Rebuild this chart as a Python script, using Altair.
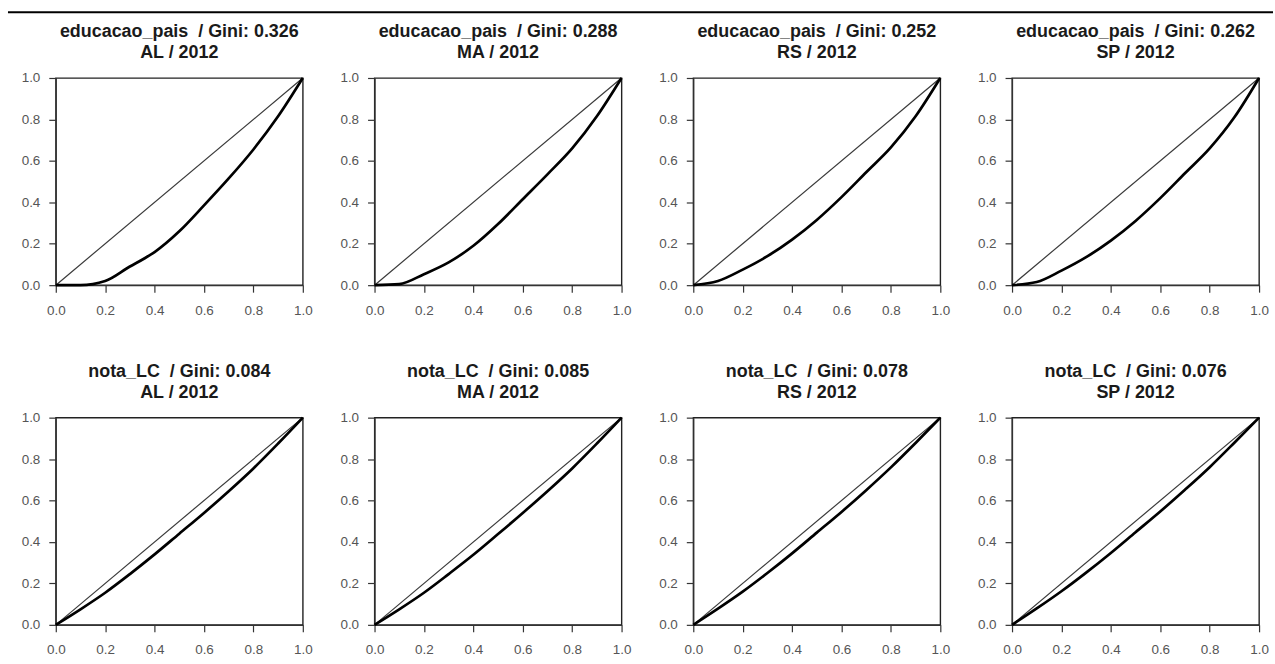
import altair as alt
import pandas as pd

# ---- data ----
VARS_TOP = "educacao_pais"
VARS_BOTTOM = "nota_LC"
UFS = ["AL", "MA", "RS", "SP"]
YEAR = "2012"

GINI_TOP = ["0.326", "0.288", "0.252", "0.262"]
GINI_BOTTOM = ["0.084", "0.085", "0.078", "0.076"]

X_GRID = [0.0, 0.1, 0.2, 0.3, 0.4, 0.5, 0.6, 0.7, 0.8, 0.9, 1.0]
X_AL_EDU = [0.0, 0.1, 0.2, 0.3, 0.36, 0.4, 0.5, 0.6, 0.7, 0.8, 0.9, 1.0]

Y_AL_EDU = [0.0, 0.0, 0.02, 0.09, 0.13, 0.16, 0.26, 0.385, 0.515, 0.655, 0.815, 1.0]
Y_MA_EDU = [0.0, 0.005, 0.053, 0.11, 0.19, 0.295, 0.415, 0.535, 0.66, 0.815, 1.0]
Y_RS_EDU = [0.0, 0.02, 0.075, 0.14, 0.22, 0.315, 0.425, 0.545, 0.665, 0.815, 1.0]
Y_SP_EDU = [0.0, 0.015, 0.07, 0.135, 0.215, 0.31, 0.42, 0.54, 0.66, 0.81, 1.0]

Y_AL_LC = [0.0, 0.075, 0.155, 0.245, 0.34, 0.44, 0.54, 0.645, 0.755, 0.875, 1.0]
Y_MA_LC = [0.0, 0.075, 0.155, 0.245, 0.338, 0.438, 0.54, 0.645, 0.755, 0.875, 1.0]
Y_RS_LC = [0.0, 0.078, 0.16, 0.25, 0.345, 0.445, 0.545, 0.65, 0.76, 0.878, 1.0]
Y_SP_LC = [0.0, 0.079, 0.162, 0.252, 0.347, 0.447, 0.547, 0.652, 0.761, 0.879, 1.0]

DIAG_X = [0.0, 1.0]
DIAG_Y = [0.0, 1.0]
TICKS = [0.0, 0.2, 0.4, 0.6, 0.8, 1.0]

FONT = "Liberation Sans"
W, H = 248, 208


def panel(var, uf, gini, xs, ys, top_rule=False):
    df = pd.DataFrame({"x": xs, "y": ys})
    diag = pd.DataFrame({"x": DIAG_X, "y": DIAG_Y})
    xenc = alt.X(
        "x:Q",
        scale=alt.Scale(domain=[0, 1], nice=False, zero=False),
        axis=alt.Axis(values=TICKS, format=".1f", title=None, grid=False,
                      labelFlush=False, labelPadding=11, tickSize=7),
    )
    yenc = alt.Y(
        "y:Q",
        scale=alt.Scale(domain=[0, 1], nice=False, zero=False),
        axis=alt.Axis(values=TICKS, format=".1f", title=None, grid=False,
                      labelFlush=False, labelPadding=9, tickSize=7),
    )
    d = alt.Chart(diag).mark_line(color="#3a3a3a", strokeWidth=1.2).encode(x=xenc, y=yenc)
    c = alt.Chart(df).mark_line(color="black", strokeWidth=2.7, interpolate="monotone").encode(
        x="x:Q", y="y:Q")
    tdf1 = pd.DataFrame({"t": [f"{var}\u00a0 / Gini: {gini}"]})
    tdf2 = pd.DataFrame({"t": [f"{uf} / {YEAR}"]})
    tstyle = dict(font=FONT, fontSize=18, fontWeight="bold", color="#1a1a1a",
                  align="center", baseline="middle")
    t1 = alt.Chart(tdf1).mark_text(**tstyle).encode(
        text="t:N", x=alt.value(W / 2), y=alt.value(-46))
    t2 = alt.Chart(tdf2).mark_text(**tstyle).encode(
        text="t:N", x=alt.value(W / 2), y=alt.value(-25))
    layers = [d, c, t1, t2]
    if top_rule:
        rdf = pd.DataFrame({"k": [0]})
        r = alt.Chart(rdf).mark_rule(color="black", strokeWidth=2).encode(
            x=alt.value(-48), x2=alt.value(1222), y=alt.value(-66)
        )
        layers.append(r)
    return alt.layer(*layers).properties(width=W, height=H)


top_y = [Y_AL_EDU, Y_MA_EDU, Y_RS_EDU, Y_SP_EDU]
bot_y = [Y_AL_LC, Y_MA_LC, Y_RS_LC, Y_SP_LC]

panels = []
for i, uf in enumerate(UFS):
    xs = X_AL_EDU if i == 0 else X_GRID
    panels.append(panel(VARS_TOP, uf, GINI_TOP[i], xs, top_y[i], top_rule=(i == 0)))
for i, uf in enumerate(UFS):
    panels.append(panel(VARS_BOTTOM, uf, GINI_BOTTOM[i], X_GRID, bot_y[i]))

chart = alt.concat(
    *panels, columns=4, spacing={"row": 133, "column": 72}, bounds="flush"
).properties(
    padding={"left": 6, "top": 9, "right": 0, "bottom": 0},
    background="white",
).configure_view(
    stroke="#222222", strokeWidth=1.4
).configure_axis(
    domainColor="#333333", tickColor="#333333", domainWidth=1.2, tickWidth=1.2,
    labelFont=FONT, labelFontSize=13.5, labelColor="#555555",
)

chart.save("out.html", embed_options={"renderer": "svg", "actions": False})
